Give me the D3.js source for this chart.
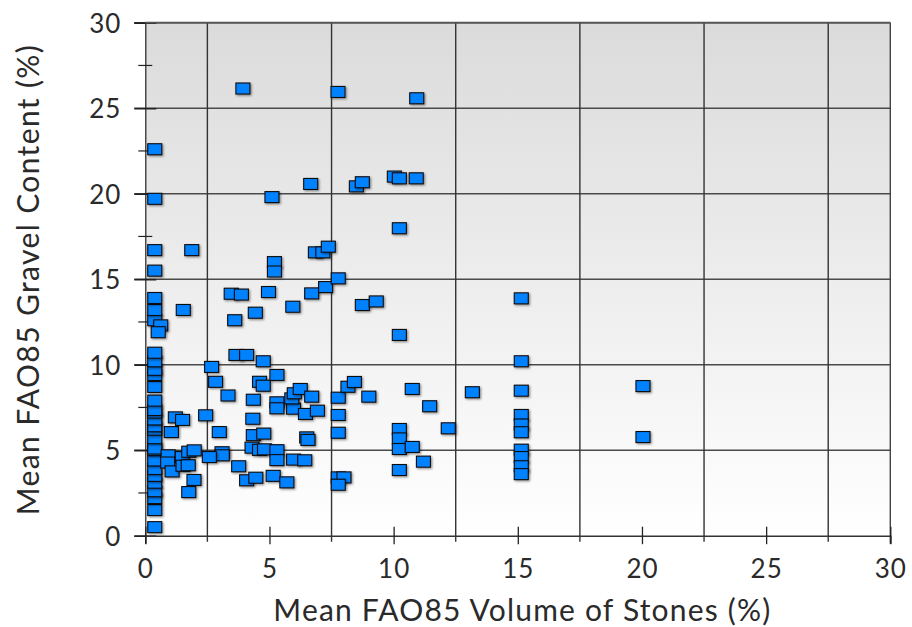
<!DOCTYPE html>
<html>
<head>
<meta charset="utf-8">
<script src="https://cdn.jsdelivr.net/npm/d3@7/dist/d3.min.js"></script>
<style>
  html, body { margin: 0; padding: 0; background: #ffffff; }
  svg { display: block; }
  text { font-family: "Lato", "Open Sans", sans-serif; fill: #2a2a2a; }
</style>
</head>
<body>
<svg id="chart" width="912" height="627"></svg>
<script>
// ---- Data ----
const stones = [
  // column near 0.4
  0.38,0.38,0.38,0.38,0.38,0.38,0.38,0.38,0.38,0.38,0.38,0.38,0.38,0.38,0.38,0.38,0.38,0.38,0.38,0.38,0.38,0.38,0.38,0.38,0.38,0.38,0.38,0.38,0.38,
  0.62,0.52,
  // 0.9 - 2.1
  0.92,0.90,1.08,1.05,1.21,1.50,1.49,1.52,1.73,1.75,1.97,1.96,1.75,1.53,1.87,
  // 2.4 - 3.7
  2.43,2.67,2.83,3.33,2.98,3.09,3.10,2.58,3.46,3.60,3.65,
  // 3.7 - 5.3
  3.87,4.08,4.75,4.60,4.75,4.35,4.33,4.35,4.77,4.30,4.60,4.80,3.76,4.08,4.45,4.96,4.43,3.93,5.10,5.20,5.20,5.30,5.30,5.30,5.30,5.30,5.15,
  // 5.6 - 7.0
  5.70,5.94,5.97,5.90,6.00,6.24,6.45,6.70,6.93,6.50,6.55,5.97,6.42,6.66,6.70,6.85,
  // 7.1 - 9.3
  7.15,7.37,7.26,7.77,7.77,7.77,7.77,7.77,8.00,7.77,7.76,8.16,8.42,9.00,8.50,8.74,8.74,9.30,
  // 10 - 11.5
  10.03,10.23,10.91,10.93,10.23,10.23,10.75,11.45,10.23,10.23,10.23,10.75,11.20,10.23,
  // 12+
  12.20,13.17,15.14,15.14,15.14,15.14,15.14,15.14,15.14,15.14,15.14,15.14,20.04,20.04
];
const gravel = [
  0.5,1.5,2.2,2.6,3.1,3.5,3.9,4.4,5.0,5.1,5.7,6.2,6.4,6.8,7.2,7.35,7.9,8.7,9.4,9.7,10.2,10.7,12.6,13.2,13.9,15.5,16.7,19.7,22.6,
  12.3,11.9,
  4.70,4.28,3.76,6.06,6.92,6.77,4.60,4.09,4.12,4.91,4.99,3.26,2.55,13.2,16.7,
  7.04,9.87,9.00,8.20,6.06,4.88,4.70,4.60,14.15,12.6,10.57,
  14.1,10.57,10.2,9.0,8.77,7.95,6.84,5.88,5.97,5.15,5.02,5.05,4.06,3.24,3.39,14.25,13.04,26.15,19.8,16.0,15.45,9.4,7.8,7.45,5.0,4.42,3.5,
  3.12,13.39,7.43,8.03,8.33,8.58,7.12,8.13,7.31,5.75,5.6,4.45,4.41,20.57,14.17,16.57,
  16.57,16.9,14.54,15.05,8.07,7.06,6.02,3.41,3.41,2.98,25.95,8.71,8.99,8.13,20.43,20.67,13.49,13.7,
  21.0,20.9,20.9,25.58,17.98,11.74,8.58,7.57,6.24,5.69,5.07,5.19,4.33,3.84,
  6.28,8.39,13.88,10.2,8.48,7.06,6.5,6.05,5.03,4.6,4.06,3.6,8.75,5.77
];
const xTicks = [0, 5, 10, 15, 20, 25, 30];
const yTicks = [0, 5, 10, 15, 20, 25, 30];
const xGridVals = [2.5, 7.5, 12.5, 17.5, 22.5, 27.5];
const yMinorVals = [2.5, 7.5, 12.5, 17.5, 22.5, 27.5];
const xTitle = "Mean FAO85 Volume of Stones (%)";
const yTitle = "Mean FAO85 Gravel Content (%)";

// ---- Layout ----
const svg = d3.select("#chart");
const margin = { left: 145.3, top: 22.7, right: 912 - 890.3, bottom: 627 - 535.7 };
const W = 912 - margin.left - margin.right;
const H = 627 - margin.top - margin.bottom;

const x = d3.scaleLinear().domain([0, 30]).range([0, W]);
const y = d3.scaleLinear().domain([0, 30]).range([H, 0]);

const defs = svg.append("defs");
const grad = defs.append("linearGradient").attr("id", "bg").attr("x1", 0).attr("y1", 0).attr("x2", 0).attr("y2", 1);
grad.append("stop").attr("offset", "0%").attr("stop-color", "#dbdbdb");
grad.append("stop").attr("offset", "100%").attr("stop-color", "#ffffff");
const shadow = defs.append("filter").attr("id", "sh").attr("x", "-50%").attr("y", "-50%").attr("width", "200%").attr("height", "200%");
shadow.append("feDropShadow").attr("dx", 1.2).attr("dy", 1.2).attr("stdDeviation", 0.9)
  .attr("flood-color", "#000").attr("flood-opacity", 0.45);

const g = svg.append("g").attr("transform", `translate(${margin.left},${margin.top})`);

g.append("rect").attr("x", 0).attr("y", 0).attr("width", W).attr("height", H).attr("fill", "url(#bg)");

// horizontal grid at major y values (extending left as major ticks)
g.append("g").selectAll("line").data(yTicks.filter(d => d > 0)).join("line")
  .attr("x1", -11).attr("x2", W).attr("y1", d => y(d)).attr("y2", d => y(d))
  .attr("stroke", "#4a4a4a").attr("stroke-width", 1.6);

// vertical grid at minor x values (extending a bit below the axis)
g.append("g").selectAll("line").data(xGridVals).join("line")
  .attr("x1", d => x(d)).attr("x2", d => x(d)).attr("y1", 0).attr("y2", H + 6)
  .attr("stroke", "#333").attr("stroke-width", 1.4);

// right border
g.append("line").attr("x1", W).attr("x2", W).attr("y1", 0).attr("y2", H + 8)
  .attr("stroke", "#444").attr("stroke-width", 1.4);

// Y axis
const yAxis = d3.axisLeft(y).tickValues(yTicks).tickSize(11).tickPadding(13);
const ya = g.append("g").call(yAxis);
ya.select(".domain").attr("stroke", "#222").attr("stroke-width", 1.2);
ya.selectAll(".tick line").attr("stroke", "#222").attr("stroke-width", 1.6).attr("x2", 11).attr("x1", -11);
ya.selectAll(".tick text").attr("font-size", 26).attr("fill", "#2a2a2a").attr("dy", "0.36em")
  .attr("letter-spacing", 1)
  .style("font-family", "Lato, 'Open Sans', sans-serif");
// y minor ticks
g.append("g").selectAll("line").data(yMinorVals).join("line")
  .attr("x1", -7).attr("x2", 7).attr("y1", d => y(d)).attr("y2", d => y(d))
  .attr("stroke", "#222").attr("stroke-width", 1.2);

// X axis
const xAxis = d3.axisBottom(x).tickValues(xTicks).tickSize(8).tickPadding(16);
const xa = g.append("g").attr("transform", `translate(0,${H})`).call(xAxis);
xa.select(".domain").attr("stroke", "#333").attr("stroke-width", 1.6);
xa.selectAll(".tick line").attr("stroke", "#222").attr("stroke-width", 1.3).attr("y1", -9).attr("y2", 8.5);
xa.selectAll(".tick text").attr("font-size", 26).attr("fill", "#2a2a2a")
  .attr("letter-spacing", 1)
  .style("font-family", "Lato, 'Open Sans', sans-serif");

// top border
g.append("line").attr("x1", 0).attr("x2", W).attr("y1", 0).attr("y2", 0)
  .attr("stroke", "#555").attr("stroke-width", 1.8);

// points
const pts = stones.map((s, i) => ({ s, v: gravel[i] }));
g.append("g").selectAll("rect").data(pts).join("rect")
  .attr("x", d => x(d.s) - 7).attr("y", d => y(d.v) - 5.5)
  .attr("width", 14).attr("height", 11)
  .attr("fill", "#0582ff").attr("stroke", "#0d0d0d").attr("stroke-width", 1.1)
  .attr("filter", "url(#sh)");

// titles
svg.append("text").attr("x", margin.left + W / 2 + 4).attr("y", 621)
  .attr("text-anchor", "middle").attr("font-size", 30).attr("fill", "#2a2a2a")
  .attr("textLength", 497).attr("lengthAdjust", "spacing").text(xTitle);
svg.append("text").attr("transform", `translate(39,${margin.top + H / 2 + 1}) rotate(-90)`)
  .attr("text-anchor", "middle").attr("font-size", 30).attr("fill", "#2a2a2a")
  .attr("textLength", 470).attr("lengthAdjust", "spacing").text(yTitle);
</script>
</body>
</html>
